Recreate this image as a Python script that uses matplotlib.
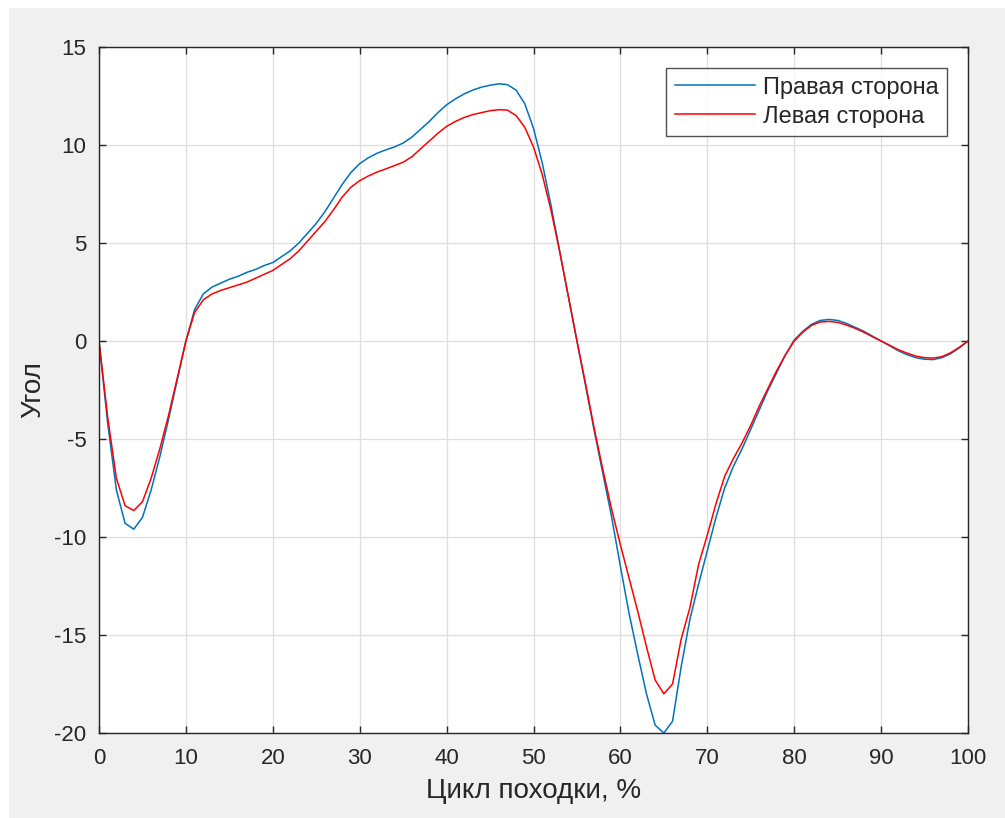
import matplotlib
matplotlib.use("Agg")
import matplotlib.pyplot as plt
import numpy as np

plt.rcParams['font.family'] = ['Liberation Sans', 'DejaVu Sans']
plt.rcParams['axes.unicode_minus'] = False

# gait cycle, percent
cycle = np.arange(0, 101)

# right side angle
right_side = [
    0.0, -4.2, -7.6, -9.3, -9.6, -9.0, -7.6, -5.9, -4.0, -2.0,
    0.0, 1.6, 2.4, 2.75, 2.95, 3.15, 3.3, 3.5, 3.65, 3.85,
    4.0, 4.3, 4.6, 5.0, 5.5, 6.0, 6.6, 7.3, 8.0, 8.6,
    9.05, 9.35, 9.58, 9.75, 9.9, 10.1, 10.4, 10.8, 11.2, 11.65,
    12.05, 12.35, 12.6, 12.8, 12.95, 13.05, 13.12, 13.08, 12.8, 12.1,
    10.85, 9.1, 6.95, 4.6, 2.3, 0.0, -2.3, -4.6, -6.8, -9.0,
    -11.5, -13.9, -16.0, -18.0, -19.6, -20.0, -19.4, -16.6, -14.2, -12.4,
    -10.7, -9.0, -7.5, -6.4, -5.5, -4.5, -3.5, -2.5, -1.6, -0.7,
    0.05, 0.5, 0.85, 1.05, 1.1, 1.05, 0.9, 0.7, 0.5, 0.25,
    0.0, -0.25, -0.5, -0.7, -0.85, -0.93, -0.95, -0.85, -0.65, -0.35,
    0.0,
]

# left side angle
left_side = [
    0.0, -3.9, -7.0, -8.4, -8.65, -8.2, -7.0, -5.5, -3.8, -1.9,
    0.0, 1.45, 2.1, 2.4, 2.58, 2.72, 2.86, 3.0, 3.2, 3.4,
    3.6, 3.9, 4.2, 4.6, 5.1, 5.6, 6.1, 6.7, 7.35, 7.85,
    8.18, 8.42, 8.62, 8.78, 8.95, 9.12, 9.4, 9.8, 10.2, 10.6,
    10.95, 11.2, 11.4, 11.55, 11.65, 11.75, 11.8, 11.78, 11.5, 10.9,
    9.9, 8.5, 6.7, 4.6, 2.3, 0.0, -2.2, -4.5, -6.6, -8.6,
    -10.4, -12.1, -13.8, -15.6, -17.3, -18.0, -17.5, -15.2, -13.6, -11.4,
    -9.9, -8.3, -6.9, -6.0, -5.2, -4.3, -3.3, -2.4, -1.5, -0.7,
    0.0, 0.45, 0.8, 0.97, 1.0, 0.95, 0.82, 0.65, 0.45, 0.22,
    0.0, -0.22, -0.45, -0.62, -0.77, -0.85, -0.87, -0.8, -0.6, -0.32,
    0.0,
]

x_ticks = np.arange(0, 101, 10)
y_ticks = np.arange(-20, 16, 5)

fig = plt.figure(figsize=(10.05, 8.18), dpi=100, facecolor='white')
# grey window background
fig.patches.append(plt.Rectangle((9 / 1005, 0), 1, 1 - 8 / 818, transform=fig.transFigure,
                                 facecolor='#f0f0f0', edgecolor='none', zorder=-10))
ax = fig.add_axes([99 / 1005, 1 - 733 / 818, (968 - 99) / 1005, (733 - 47) / 818])

ax.plot(cycle, right_side, color='#0072BD', lw=1.1, label='Правая сторона')
ax.plot(cycle, left_side, color='#FF0000', lw=1.1, label='Левая сторона')

ax.set_xlim(0, 100)
ax.set_ylim(-20, 15)
ax.set_xticks(x_ticks)
ax.set_yticks(y_ticks)
ax.grid(True, color='#dedede', lw=0.9)
ax.set_axisbelow(True)
ax.tick_params(direction='in', length=5, width=1, top=True, right=True,
               labelsize=16, colors='#262626')
ax.tick_params(axis='x', pad=11)
ax.tick_params(axis='y', pad=9)
for s in ax.spines.values():
    s.set_color('#262626')
    s.set_linewidth(1.0)

ax.set_xlabel('Цикл походки, %', fontsize=20, color='#262626', labelpad=6)
ax.set_ylabel('Угол', fontsize=20, color='#262626', labelpad=6)

leg = ax.legend(loc='upper right', fontsize=17, handlelength=3.4, borderpad=0.35,
                labelspacing=0.3, handletextpad=0.35, fancybox=False,
                bbox_to_anchor=(0.976, 0.969), borderaxespad=0)
leg.get_frame().set_edgecolor('#262626')
leg.get_frame().set_linewidth(1.0)
for t in leg.get_texts():
    t.set_color('#262626')

fig.savefig('out.png', dpi=100, facecolor=fig.get_facecolor())
